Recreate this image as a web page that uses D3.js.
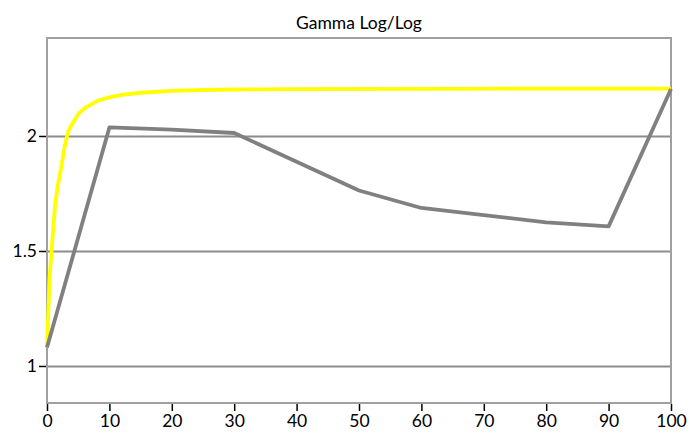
<!DOCTYPE html>
<html><head><meta charset="utf-8">
<script src="https://cdn.jsdelivr.net/npm/d3@7"></script>
<style>body{margin:0;background:#fff}svg{display:block}text{font-family:Lato,"Open Sans",sans-serif}</style>
</head><body>
<svg id="c" width="691" height="440"></svg>
<script>
const title = "Gamma Log/Log";
const xTicks = [0,10,20,30,40,50,60,70,80,90,100];
const yTicks = [1,1.5,2];
const grayX = [0,10,20,30,50,60,70,80,90,100];
const grayY = [1.08,2.037,2.028,2.013,1.763,1.687,1.656,1.624,1.607,2.204];
const yellowX = [0,0.4,0.75,1,1.3,1.7,2.2,2.8,3.4,4,5,6,8,10,12,15,20,25,30,40,60,80,100];
const yellowY = [1.08,1.38,1.5,1.6,1.7,1.78,1.85,1.95,2.02,2.05,2.095,2.12,2.152,2.168,2.179,2.188,2.196,2.2,2.202,2.204,2.205,2.206,2.206];

const svg = d3.select("#c");
const L=47, R=671, T=38, B=403;
const FS = 17.5;
const x = d3.scaleLinear().domain([0,100]).range([L,R]);
const y = d3.scaleLinear().domain([0.839,2.426]).range([B,T]);

svg.append("text").attr("x",(L+R)/2).attr("y",29).attr("text-anchor","middle")
  .attr("font-size",FS).attr("fill","#000").text(title);

// gridlines
svg.append("g").selectAll("line").data(yTicks).join("line")
  .attr("x1",L).attr("x2",R).attr("y1",d=>Math.round(y(d))+0.5).attr("y2",d=>Math.round(y(d))+0.5)
  .attr("stroke","#8c8c8c").attr("stroke-width",2);

// frame
svg.append("rect").attr("x",L).attr("y",T).attr("width",R-L).attr("height",B-T)
  .attr("fill","none").attr("stroke","#a0a0a0").attr("stroke-width",2);

// y axis
const ya = svg.append("g").attr("transform",`translate(${L-1},0)`)
  .call(d3.axisLeft(y).tickValues(yTicks).tickSize(7).tickPadding(2).tickFormat(d3.format("")));
ya.select(".domain").remove();
ya.selectAll("line").attr("stroke","#000").attr("stroke-width",1.5);
ya.selectAll("text").attr("font-size",FS).attr("fill","#000").attr("font-family","Lato,'Open Sans',sans-serif");

// x axis
const xa = svg.append("g").attr("transform",`translate(0,${B+1})`)
  .call(d3.axisBottom(x).tickValues(xTicks).tickSize(7).tickPadding(4));
xa.select(".domain").remove();
xa.selectAll("line").attr("stroke","#000").attr("stroke-width",1.5);
xa.selectAll("text").attr("font-size",FS).attr("fill","#000").attr("font-family","Lato,'Open Sans',sans-serif");

const line = d3.line().x(d=>x(d[0])).y(d=>y(d[1]));
svg.append("path").datum(yellowX.map((v,i)=>[v,yellowY[i]])).attr("d",line)
  .attr("fill","none").attr("stroke","#ffff00").attr("stroke-width",3.8).attr("stroke-linejoin","round");
svg.append("path").datum(grayX.map((v,i)=>[v,grayY[i]])).attr("d",line)
  .attr("fill","none").attr("stroke","#808080").attr("stroke-width",3.8).attr("stroke-linejoin","round");
</script>
</body></html>
